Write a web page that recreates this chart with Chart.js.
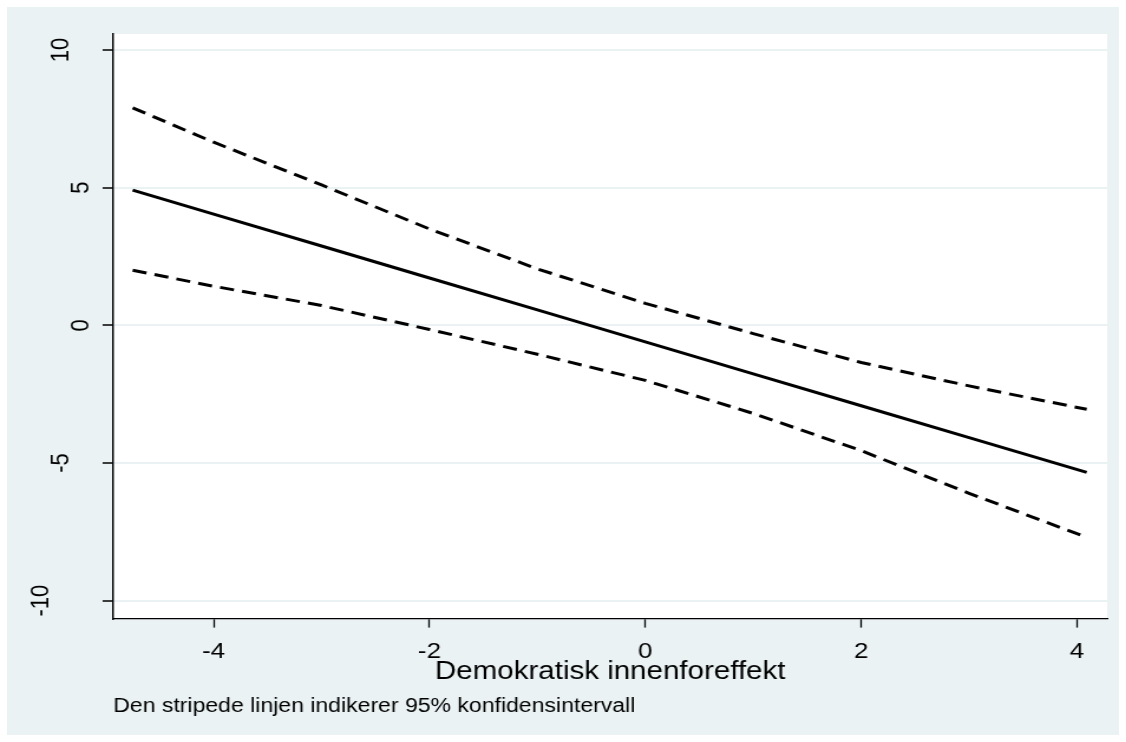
<!DOCTYPE html>
<html>
<head>
<meta charset="utf-8">
<script src="https://cdn.jsdelivr.net/npm/chart.js@4/dist/chart.umd.min.js"></script>
<style>
  html, body { margin: 0; padding: 0; background: #ffffff; }
  #frame { position: absolute; left: 7px; top: 7px; width: 1112px; height: 728px; background: #eaf2f3; }
  /* the reference is stretched sideways, so the canvas is drawn narrower and widened */
  #chart { display: block; width: 1112px !important; height: 728px !important; }
</style>
</head>
<body>
<div id="frame"><canvas id="chart" width="942" height="728"></canvas></div>
<script>
// values
const xs      = [-4.75, -4, -3, -2, -1, 0, 1, 2, 3, 4.09];
const fitted  = [4.91, 4.04, 2.88, 1.72, 0.56, -0.60, -1.76, -2.92, -4.08, -5.34];
const upperCI = [7.90, 6.65, 5.10, 3.50, 2.05, 0.80, -0.30, -1.35, -2.20, -3.05];
const lowerCI = [2.00, 1.42, 0.72, -0.15, -1.05, -2.00, -3.20, -4.55, -6.10, -7.70];

const xTicks = [-4, -2, 0, 2, 4];
const yTicks = [-10, -5, 0, 5, 10];

const xTitle = 'Demokratisk innenforeffekt';
const note = 'Den stripede linjen indikerer 95% konfidensintervall';

const font = '"Liberation Sans", Arial, sans-serif';
const pts = ys => xs.map((x, i) => ({ x: x, y: ys[i] }));

const line = (label, ys, dash) => ({
    label: label,
    data: pts(ys),
    borderColor: '#000000',
    borderWidth: 3,
    borderDash: dash,
    pointRadius: 0,
    tension: 0,
    fill: false
});

// white plot region on the grey graph region
const plotBg = {
    id: 'plotBg',
    beforeDraw(chart) {
        const { ctx, chartArea: a } = chart;
        ctx.save();
        ctx.fillStyle = '#ffffff';
        ctx.fillRect(a.left, a.top, a.right - a.left, a.bottom - a.top);
        ctx.restore();
    }
};

// rotated y labels sit further out the longer they are (empty lines push them left)
const yLabel = v => [String(v)].concat(Array(String(v).length - 1).fill(''));

new Chart(document.getElementById('chart'), {
    type: 'line',
    data: {
        datasets: [
            line('upper', upperCI, [12, 7]),
            line('fitted', fitted, []),
            line('lower', lowerCI, [12, 7])
        ]
    },
    options: {
        responsive: false,
        animation: false,
        layout: { padding: { left: 0, right: 10, top: 27, bottom: 0 } },
        plugins: {
            legend: { display: false },
            tooltip: { enabled: false },
            title: {
                display: true,
                text: note,
                position: 'bottom',
                align: 'start',
                fullSize: false,
                color: '#000000',
                font: { family: font, size: 19.5, weight: 'normal' },
                padding: { top: 7, bottom: 17 }
            }
        },
        scales: {
            x: {
                type: 'linear',
                min: -4.93,
                max: 4.28,
                afterBuildTicks: s => { s.ticks = xTicks.map(v => ({ value: v })); },
                afterFit: s => { s.height = 69; },
                grid: { drawOnChartArea: false, tickLength: 9, tickColor: '#000000', tickWidth: 1.3 },
                border: { display: true, color: '#000000', width: 1.3 },
                ticks: { color: '#000000', font: { family: font, size: 22 }, padding: 11, maxRotation: 0 },
                title: { display: true, text: xTitle, color: '#000000', font: { family: font, size: 25 }, padding: { top: 0, bottom: 0 } }
            },
            y: {
                type: 'linear',
                min: -10.65,
                max: 10.58,
                afterBuildTicks: s => { s.ticks = yTicks.map(v => ({ value: v })); },
                afterFit: s => { s.width = 90; s.paddingTop = 0; s.paddingBottom = 0; },
                grid: { color: '#eaf2f3', lineWidth: 2, tickLength: 9, tickColor: '#000000', tickWidth: 1.5 },
                border: { display: true, color: '#000000', width: 1.5 },
                ticks: {
                    color: '#000000',
                    font: { family: font, size: 22, lineHeight: 1.55 },
                    padding: 2.5,
                    minRotation: 90,
                    maxRotation: 90,
                    crossAlign: 'center',
                    callback: yLabel
                }
            }
        }
    },
    plugins: [plotBg]
});
</script>
</body>
</html>
